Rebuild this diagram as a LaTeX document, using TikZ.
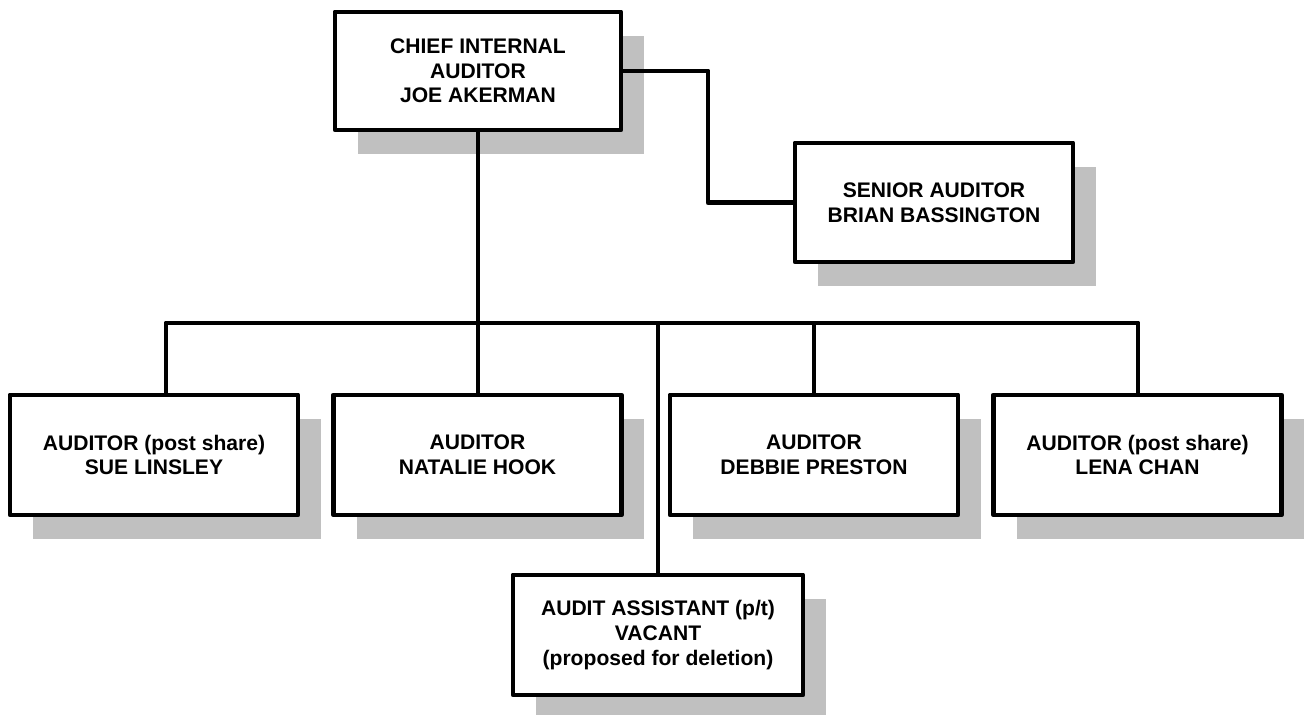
\documentclass[tikz,border=0pt]{standalone}
\usepackage{fontspec}
\setmainfont{Liberation Sans}
\usetikzlibrary{shadows}
\definecolor{shadowgray}{HTML}{C0C0C0}

\begin{document}
\begin{tikzpicture}[x=0.02cm, y=-0.02cm,
    post/.style={draw, fill=white, line width=2.8pt, line join=round,
        minimum width=5.76cm, minimum height=2.4cm, align=center,
        font=\bfseries\fontsize{12}{14}\selectfont,
        drop shadow={shadow xshift=0.46cm, shadow yshift=-0.48cm, fill=shadowgray, opacity=1}},
    link/.style={draw, line width=2.8pt, line join=round}]

    \useasboundingbox (0,0) rectangle (1306,715);

    \begin{scope}[every node/.style=post]
        \node (C) at (478,71) [minimum width=5.72cm, minimum height=2.36cm] {CHIEF INTERNAL\\AUDITOR\\JOE AKERMAN};
        \node (S) at (934,202.5) [minimum width=5.56cm, minimum height=2.38cm] {SENIOR AUDITOR\\BRIAN BASSINGTON};
        \node (A1) at (154,455) {AUDITOR (post share)\\SUE LINSLEY};
        \node (A2) at (477.5,455) {AUDITOR\\NATALIE HOOK};
        \node (A3) at (814,455) {AUDITOR\\DEBBIE PRESTON};
        \node (A4) at (1137.5,455) {AUDITOR (post share)\\LENA CHAN};
        \node (V) at (658,635) [minimum width=5.8cm] {AUDIT ASSISTANT (p/t)\\VACANT\\(proposed for deletion)};
    \end{scope}

    \coordinate (busL) at (166,323);
    \coordinate (busR) at (1138,323);
    \coordinate (elbow) at (708,71);

    \begin{scope}[every path/.style=link]
        \draw (C.south) -- (C.south |- A2.north);
        \draw (A1.north -| busL) -- (busL) -- (busR) -- (busR |- A4.north);
        \draw (A3.north) -- (A3.north |- busL);
        \draw (V.north) -- (V.north |- busL);
        \draw (C.east) -- (elbow) |- (S.west);
    \end{scope}
\end{tikzpicture}
\end{document}
